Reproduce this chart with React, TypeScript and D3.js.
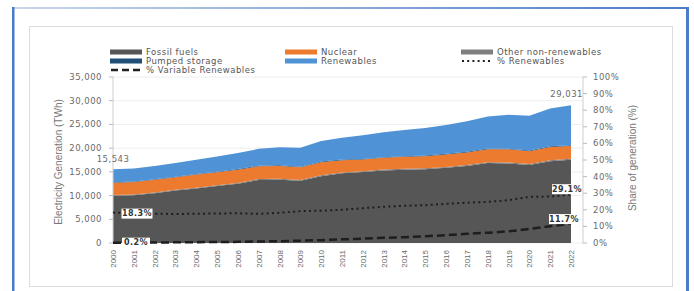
import React from "react";
import * as d3 from "d3";

const years = [2000,2001,2002,2003,2004,2005,2006,2007,2008,2009,2010,2011,2012,2013,2014,2015,2016,2017,2018,2019,2020,2021,2022];
const fossil = [9950,10050,10500,11050,11500,12000,12500,13300,13350,13100,14100,14700,14950,15300,15450,15550,15850,16250,16850,16750,16450,17250,17550];
const otherNonRen = [150,150,155,160,160,165,170,170,175,175,180,185,185,190,190,195,195,200,200,205,205,210,210];
const nuclear = [2590,2650,2680,2640,2770,2770,2800,2720,2730,2700,2760,2580,2460,2480,2540,2570,2610,2640,2710,2790,2700,2800,2680];
const pumped = [100,100,105,105,110,110,115,115,120,120,125,125,130,130,135,135,140,140,145,145,150,150,155];
const renewables = [2753,2750,2810,2895,3010,3205,3365,3545,3825,4005,4335,4610,4975,5250,5535,5800,6105,6420,6745,7160,7345,7940,8436];
const pctRenewables = [18.3,17.9,17.6,17.5,17.6,17.8,17.9,17.6,18.2,19.2,19.5,20.0,21.0,21.8,22.4,22.8,23.6,24.3,24.8,25.8,27.8,28.0,29.1];
const pctVariable = [0.2,0.25,0.3,0.4,0.5,0.6,0.7,0.9,1.1,1.4,1.7,2.2,2.6,3.1,3.5,4.1,4.7,5.5,6.2,7.0,8.5,10.1,11.7];
const leftTicks = [0,5000,10000,15000,20000,25000,30000,35000];
const rightTicks = [0,10,20,30,40,50,60,70,80,90,100];
const seriesKeys = ["fossil","other","nuclear","pumped","renewables"];
const seriesColors: Record<string,string> = {
  fossil: "#565656", other: "#7a7a7a", nuclear: "#ec7a2f", pumped: "#1f4e79", renewables: "#4f93d6",
};

const FONT = "'DejaVu Sans', 'Liberation Sans', sans-serif";

export default function App() {
  const x = d3.scalePoint<number>().domain(years).range([113, 571]);
  const y = d3.scaleLinear().domain([0, 35000]).range([243, 77]);
  const p = d3.scaleLinear().domain([0, 100]).range([243, 77]);

  const rows = years.map((yr, i) => ({
    year: yr, fossil: fossil[i], other: otherNonRen[i], nuclear: nuclear[i], pumped: pumped[i], renewables: renewables[i],
  }));
  const stack = d3.stack<any>().keys(seriesKeys)(rows);
  const area = d3.area<any>().x((d: any) => x(d.data.year) as number).y0((d: any) => y(d[0])).y1((d: any) => y(d[1]));
  const lineR = d3.line<number>().x((_, i) => x(years[i]) as number).y((v) => p(v));

  const totalFirst = d3.sum(seriesKeys.map((k) => (rows[0] as any)[k]));
  const totalLast = d3.sum(seriesKeys.map((k) => (rows[rows.length - 1] as any)[k]));
  const fmt = d3.format(",.0f");
  const last = years.length - 1;

  const legend = [
    { label: "Fossil fuels", type: "bar", color: seriesColors.fossil, x: 110, y: 52 },
    { label: "Nuclear", type: "bar", color: seriesColors.nuclear, x: 285, y: 52 },
    { label: "Other non-renewables", type: "bar", color: "#7f7f7f", x: 461, y: 52 },
    { label: "Pumped storage", type: "bar", color: seriesColors.pumped, x: 110, y: 61 },
    { label: "Renewables", type: "bar", color: seriesColors.renewables, x: 285, y: 61 },
    { label: "% Renewables", type: "dot", color: "#222", x: 461, y: 61 },
    { label: "% Variable Renewables", type: "dash", color: "#222", x: 110, y: 70 },
  ];

  const tickStyle = { fontFamily: FONT, fontSize: 8.5, fill: "#6a6a6a", letterSpacing: 0.5 } as any;

  return (
    <svg width={694} height={291} style={{ position: "absolute", left: 0, top: 0, background: "#fff" }}>
      <defs>
        <linearGradient id="topg" x1="0" x2="1" y1="0" y2="0">
          <stop offset="0" stopColor="#c9d6ea" />
          <stop offset="1" stopColor="#4a7cc9" />
        </linearGradient>
      </defs>
      {/* frame */}
      <rect x={13} y={7} width={675} height={2} fill="url(#topg)" />
      <rect x={12} y={7} width={2.5} height={284} fill="#4a7cc9" />
      <rect x={686} y={7} width={3} height={284} fill="#4a7cc9" />
      <rect x={29.5} y={26.5} width={643} height={260} fill="#fff" stroke="#dcdcdc" />

      {/* gridlines */}
      {leftTicks.map((t) => (
        <line key={"g" + t} x1={113} x2={583} y1={y(t)} y2={y(t)} stroke="#eeeeee" strokeWidth={1} />
      ))}

      {/* areas */}
      {stack.map((s: any) => (
        <path key={s.key} d={area(s) as string} fill={seriesColors[s.key]} />
      ))}

      {/* axes */}
      <line x1={113} x2={113} y1={77} y2={243} stroke="#cfcfcf" />
      <line x1={583} x2={583} y1={77} y2={243} stroke="#cfcfcf" />
      {leftTicks.map((t) => (
        <g key={"l" + t}>
          <line x1={109} x2={113} y1={y(t)} y2={y(t)} stroke="#bbb" />
          <text x={102} y={y(t)} dy="0.35em" textAnchor="end" style={tickStyle}>{fmt(t)}</text>
        </g>
      ))}
      {rightTicks.map((t) => (
        <g key={"r" + t}>
          <line x1={583} x2={587} y1={p(t)} y2={p(t)} stroke="#bbb" />
          <text x={593} y={p(t)} dy="0.35em" textAnchor="start" style={tickStyle}>{t + "%"}</text>
        </g>
      ))}
      {years.map((yr) => (
        <text key={"x" + yr} transform={`translate(${(x(yr) as number) + 3},250) rotate(-90)`} textAnchor="end"
          style={{ fontFamily: "'Liberation Sans Narrow', 'Liberation Sans', sans-serif", fontSize: 8, fill: "#6a6a6a" }}>{yr}</text>
      ))}

      {/* axis titles */}
      <text transform="translate(62,162) rotate(-90)" textAnchor="middle"
        style={{ fontFamily: "'Liberation Sans Narrow', 'Liberation Sans', sans-serif", fontSize: 10, fill: "#777" }}>Electricity Generation (TWh)</text>
      <text transform="translate(636,158) rotate(-90)" textAnchor="middle"
        style={{ fontFamily: "'Liberation Sans Narrow', 'Liberation Sans', sans-serif", fontSize: 10, fill: "#777" }}>Share of generation (%)</text>

      {/* percentage lines */}
      <path d={lineR(pctRenewables) as string} fill="none" stroke="#1e1e1e" strokeWidth={2} strokeDasharray="2,3.3" />
      <path d={lineR(pctVariable) as string} fill="none" stroke="#1e1e1e" strokeWidth={2.5} strokeDasharray="8,4" />

      {/* value labels */}
      <text x={x(years[0]) as number} y={y(totalFirst) - 7} textAnchor="middle" style={tickStyle}>{fmt(totalFirst)}</text>
      <text x={(x(years[last]) as number) + 12} y={y(totalLast) - 8} textAnchor="end" style={tickStyle}>{fmt(totalLast)}</text>

      {[
        { v: pctRenewables[0], cx: 137, cy: p(pctRenewables[0]) + 1, w: 31 },
        { v: pctVariable[0], cx: 136, cy: p(pctVariable[0]), w: 28 },
        { v: pctRenewables[last], cx: 567, cy: p(pctRenewables[last]) - 5.5, w: 30 },
        { v: pctVariable[last], cx: 564, cy: p(pctVariable[last]) - 4.5, w: 30 },
      ].map((b, i) => (
        <g key={"b" + i}>
          <rect x={b.cx - b.w / 2} y={b.cy - 5} width={b.w} height={10} fill="#fff" />
          <text x={b.cx} y={b.cy} dy="0.35em" textAnchor="middle"
            style={{ fontFamily: FONT, fontSize: 8, fontWeight: 700, fill: "#333", letterSpacing: 0.4 }}>{b.v.toFixed(1) + "%"}</text>
        </g>
      ))}

      {/* legend */}
      {legend.map((l) => (
        <g key={l.label}>
          {l.type === "bar" && <rect x={l.x} y={l.y - 2.5} width={32} height={5} fill={l.color} />}
          {l.type === "dot" && <line x1={l.x + 1} x2={l.x + 32} y1={l.y} y2={l.y} stroke={l.color} strokeWidth={2} strokeDasharray="2,3.2" />}
          {l.type === "dash" && <line x1={l.x + 1} x2={l.x + 32} y1={l.y} y2={l.y} stroke={l.color} strokeWidth={2.5} strokeDasharray="7,4" />}
          <text x={l.x + 36} y={l.y} dy="0.35em" style={{ fontFamily: FONT, fontSize: 8.5, fill: "#555", letterSpacing: 0.5 }}>{l.label}</text>
        </g>
      ))}
    </svg>
  );
}
